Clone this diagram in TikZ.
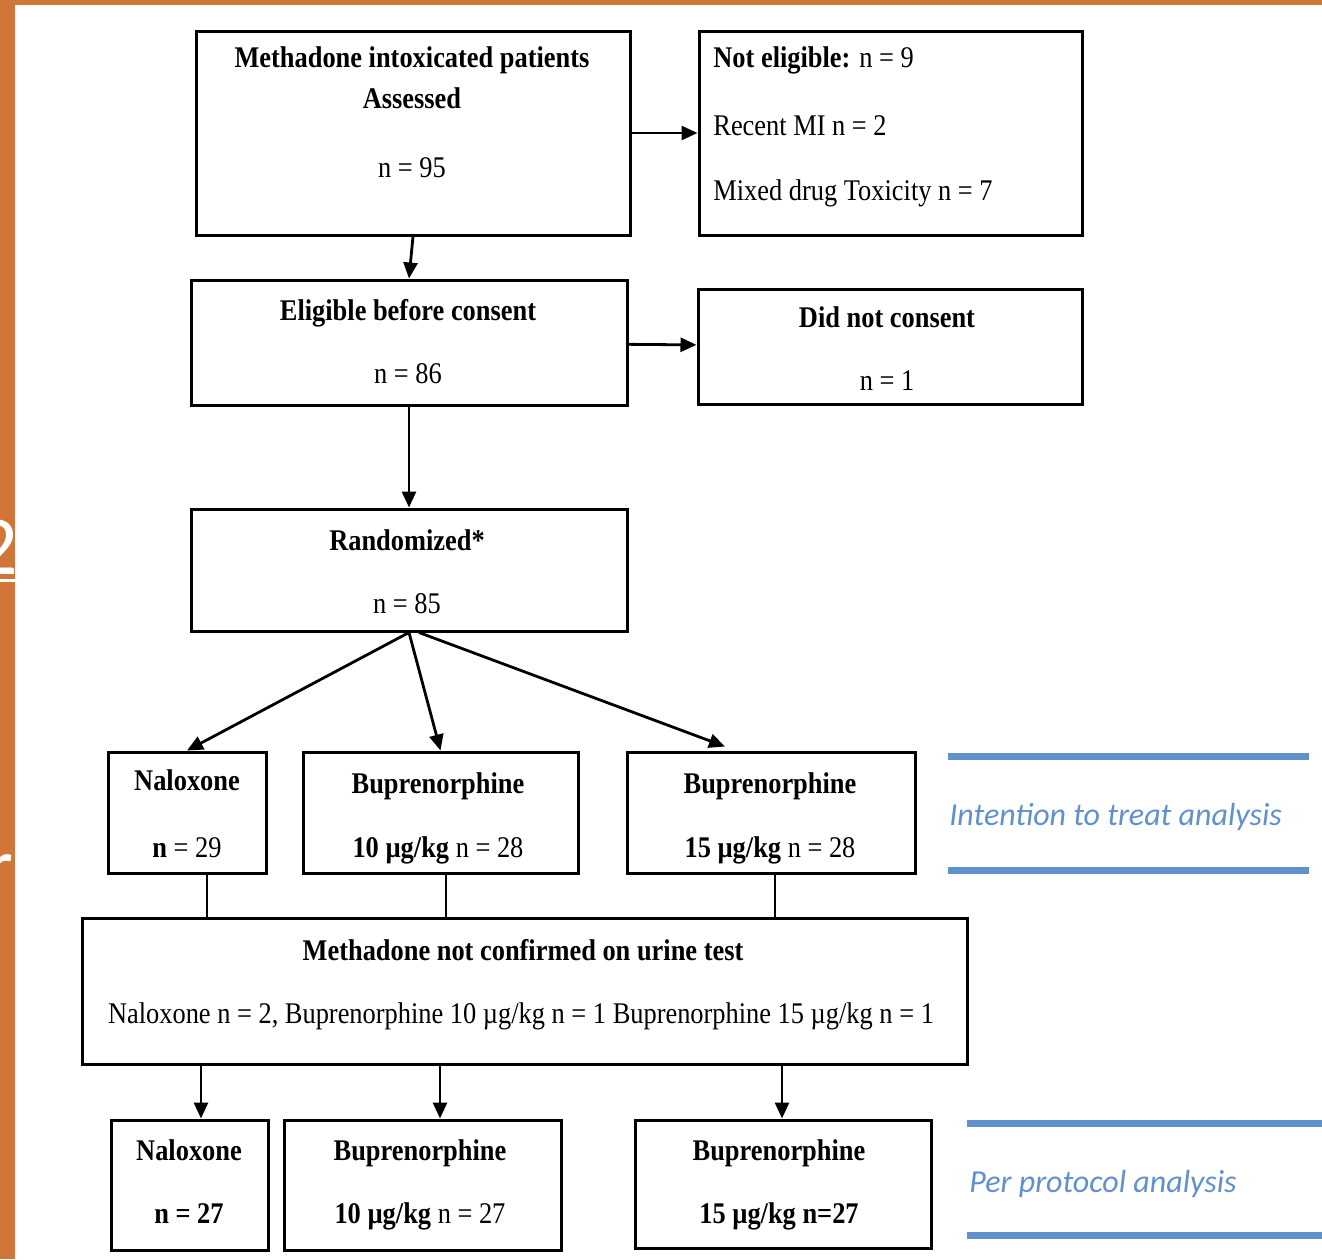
\documentclass[tikz,border=0pt]{standalone}
\usepackage{fontspec}
\setmainfont[FakeStretch=0.88]{Liberation Serif}
\newfontfamily\notefont{Carlito}
\usetikzlibrary{arrows.meta,calc}

\definecolor{slide}{RGB}{210,117,56}
\definecolor{notecol}{RGB}{96,145,204}

\tikzset{
    box/.style={draw, line width=1.5pt, inner sep=0pt},
    txt/.style={anchor=base, inner sep=0pt, font=\fontsize{15}{18}\selectfont},
    txtl/.style={txt, anchor=base west},
    arrow/.style={line width=1.4pt, -{Triangle[length=8pt,width=7pt]}},
    link/.style={line width=1.4pt},
    band/.style={line width=3.5pt, notecol},
    note/.style={anchor=base west, inner sep=0pt, text=notecol, font=\notefont\itshape\fontsize{16}{19}\selectfont}
}

\begin{document}
\begin{tikzpicture}[x=0.5pt, y=-0.5pt]
    \useasboundingbox (0,0) rectangle (1322,1259);
    \fill[white] (0,0) rectangle (1322,1259);

    % Slide edge
    \fill[slide] (0,0) rectangle (15,1259);
    \fill[slide] (0,0) rectangle (1322,5);
    \begin{scope}
        \clip (0,0) rectangle (15,1259);
        \node [anchor=base east, inner sep=0pt, text=white, font=\notefont\fontsize{42}{44}\selectfont] (frag2) at (18,574) {2};
        \draw [white, line width=1.5pt] (0,580) -- (15,580);
        \node [anchor=base east, inner sep=0pt, text=white, font=\notefont\fontsize{40}{44}\selectfont] (fragr) at (14,893) {r};
    \end{scope}

    % Boxes
    \node [box, minimum width=217pt,   minimum height=102pt]  (assess)  at (413,133)    {};
    \node [box, minimum width=191.5pt, minimum height=102pt]  (notelig) at (890.5,133)  {};
    \node [box, minimum width=218pt,   minimum height=62.5pt] (elig)    at (409,342.5)  {};
    \node [box, minimum width=192pt,   minimum height=57.5pt] (nocons)  at (890,346.5)  {};
    \node [box, minimum width=218pt,   minimum height=61pt]   (rand)    at (409,570)    {};
    \node [box, minimum width=79pt,    minimum height=60.5pt] (nalA)    at (187,812.5)  {};
    \node [box, minimum width=137.5pt, minimum height=60.5pt] (bupA)    at (440.5,812.5) {};
    \node [box, minimum width=144pt,   minimum height=60.5pt] (bupB)    at (771,812.5)  {};
    \node [box, minimum width=442.5pt, minimum height=73pt]   (urine)   at (524.5,991)  {};
    \node [box, minimum width=78.5pt,  minimum height=65pt]   (nalC)    at (189.5,1185) {};
    \node [box, minimum width=138.5pt, minimum height=65pt]   (bupC)    at (422.5,1185) {};
    \node [box, minimum width=148pt,   minimum height=64pt]   (bupD)    at (783,1184)   {};

    % Texts
    \node [txt]  (assess-a)  at (412,67)   {\textbf{Methadone intoxicated patients}};
    \node [txt]  (assess-b)  at (412,108)  {\textbf{Assessed}};
    \node [txt]  (assess-c)  at (412,177)  {n = 95};
    \node [txtl] (notelig-a) at (713,67)   {\textbf{Not eligible:} n = 9};
    \node [txtl] (notelig-b) at (713,135)  {Recent MI n = 2};
    \node [txtl] (notelig-c) at (713,200)  {Mixed drug Toxicity n = 7};
    \node [txt]  (elig-a)    at (408,320)  {\textbf{Eligible before consent}};
    \node [txt]  (elig-b)    at (408,383)  {n = 86};
    \node [txt]  (nocons-a)  at (887,327)  {\textbf{Did not consent}};
    \node [txt]  (nocons-b)  at (887,390)  {n = 1};
    \node [txt]  (rand-a)    at (407,550)  {\textbf{Randomized*}};
    \node [txt]  (rand-b)    at (407,613)  {n = 85};
    \node [txt]  (nalA-a)    at (187,790)  {\textbf{Naloxone}};
    \node [txt]  (nalA-b)    at (187,857)  {\textbf{n} = 29};
    \node [txt]  (bupA-a)    at (438,793)  {\textbf{Buprenorphine}};
    \node [txt]  (bupA-b)    at (438,857)  {\textbf{10 µg/kg} n = 28};
    \node [txt]  (bupB-a)    at (770,793)  {\textbf{Buprenorphine}};
    \node [txt]  (bupB-b)    at (770,857)  {\textbf{15 µg/kg} n = 28};
    \node [txt]  (urine-a)   at (523,960)  {\textbf{Methadone not confirmed on urine test}};
    \node [txt]  (urine-b)   at (521,1023) {Naloxone n = 2, Buprenorphine 10 µg/kg n = 1 Buprenorphine 15 µg/kg n = 1};
    \node [txt]  (nalC-a)    at (189,1160) {\textbf{Naloxone}};
    \node [txt]  (nalC-b)    at (189,1223) {\textbf{n = 27}};
    \node [txt]  (bupC-a)    at (420,1160) {\textbf{Buprenorphine}};
    \node [txt]  (bupC-b)    at (420,1223) {\textbf{10 µg/kg} n = 27};
    \node [txt]  (bupD-a)    at (779,1160) {\textbf{Buprenorphine}};
    \node [txt]  (bupD-b)    at (779,1223) {\textbf{15 µg/kg n=27}};

    % Paths
    \path [arrow] (assess)       edge (notelig);
    \path [arrow] (assess.south) edge (elig.north);
    \path [arrow] (elig)         edge (nocons);
    \path [arrow] (elig.south)   edge (rand.north);
    \path [arrow] (rand.south)   edge (nalA.north);
    \path [arrow] (rand.south)   edge (bupA.north);
    \path [arrow] ($(rand.south)+(10,0)$) edge ($(bupB.north)+(-46,-4)$);

    \coordinate (u1) at (207,0);
    \coordinate (u2) at (446,0);
    \coordinate (u3) at (775,0);
    \draw [link] (nalA.south -| u1) -- (urine.north -| u1);
    \draw [link] (bupA.south -| u2) -- (urine.north -| u2);
    \draw [link] (bupB.south -| u3) -- (urine.north -| u3);

    \coordinate (d1) at (201,0);
    \coordinate (d2) at (440,0);
    \coordinate (d3) at (782,0);
    \path [arrow] (urine.south -| d1) edge (nalC.north -| d1);
    \path [arrow] (urine.south -| d2) edge (bupC.north -| d2);
    \path [arrow] (urine.south -| d3) edge (bupD.north -| d3);

    % Analysis notes
    \draw [band] (948,756) -- (1309,756);
    \draw [band] (948,870) -- (1309,870);
    \node [note] (itt) at (949,825) {Intention to treat analysis};
    \draw [band] (967,1123) -- (1322,1123);
    \draw [band] (967,1235) -- (1322,1235);
    \node [note] (pp) at (969,1192) {Per protocol analysis};
\end{tikzpicture}
\end{document}
